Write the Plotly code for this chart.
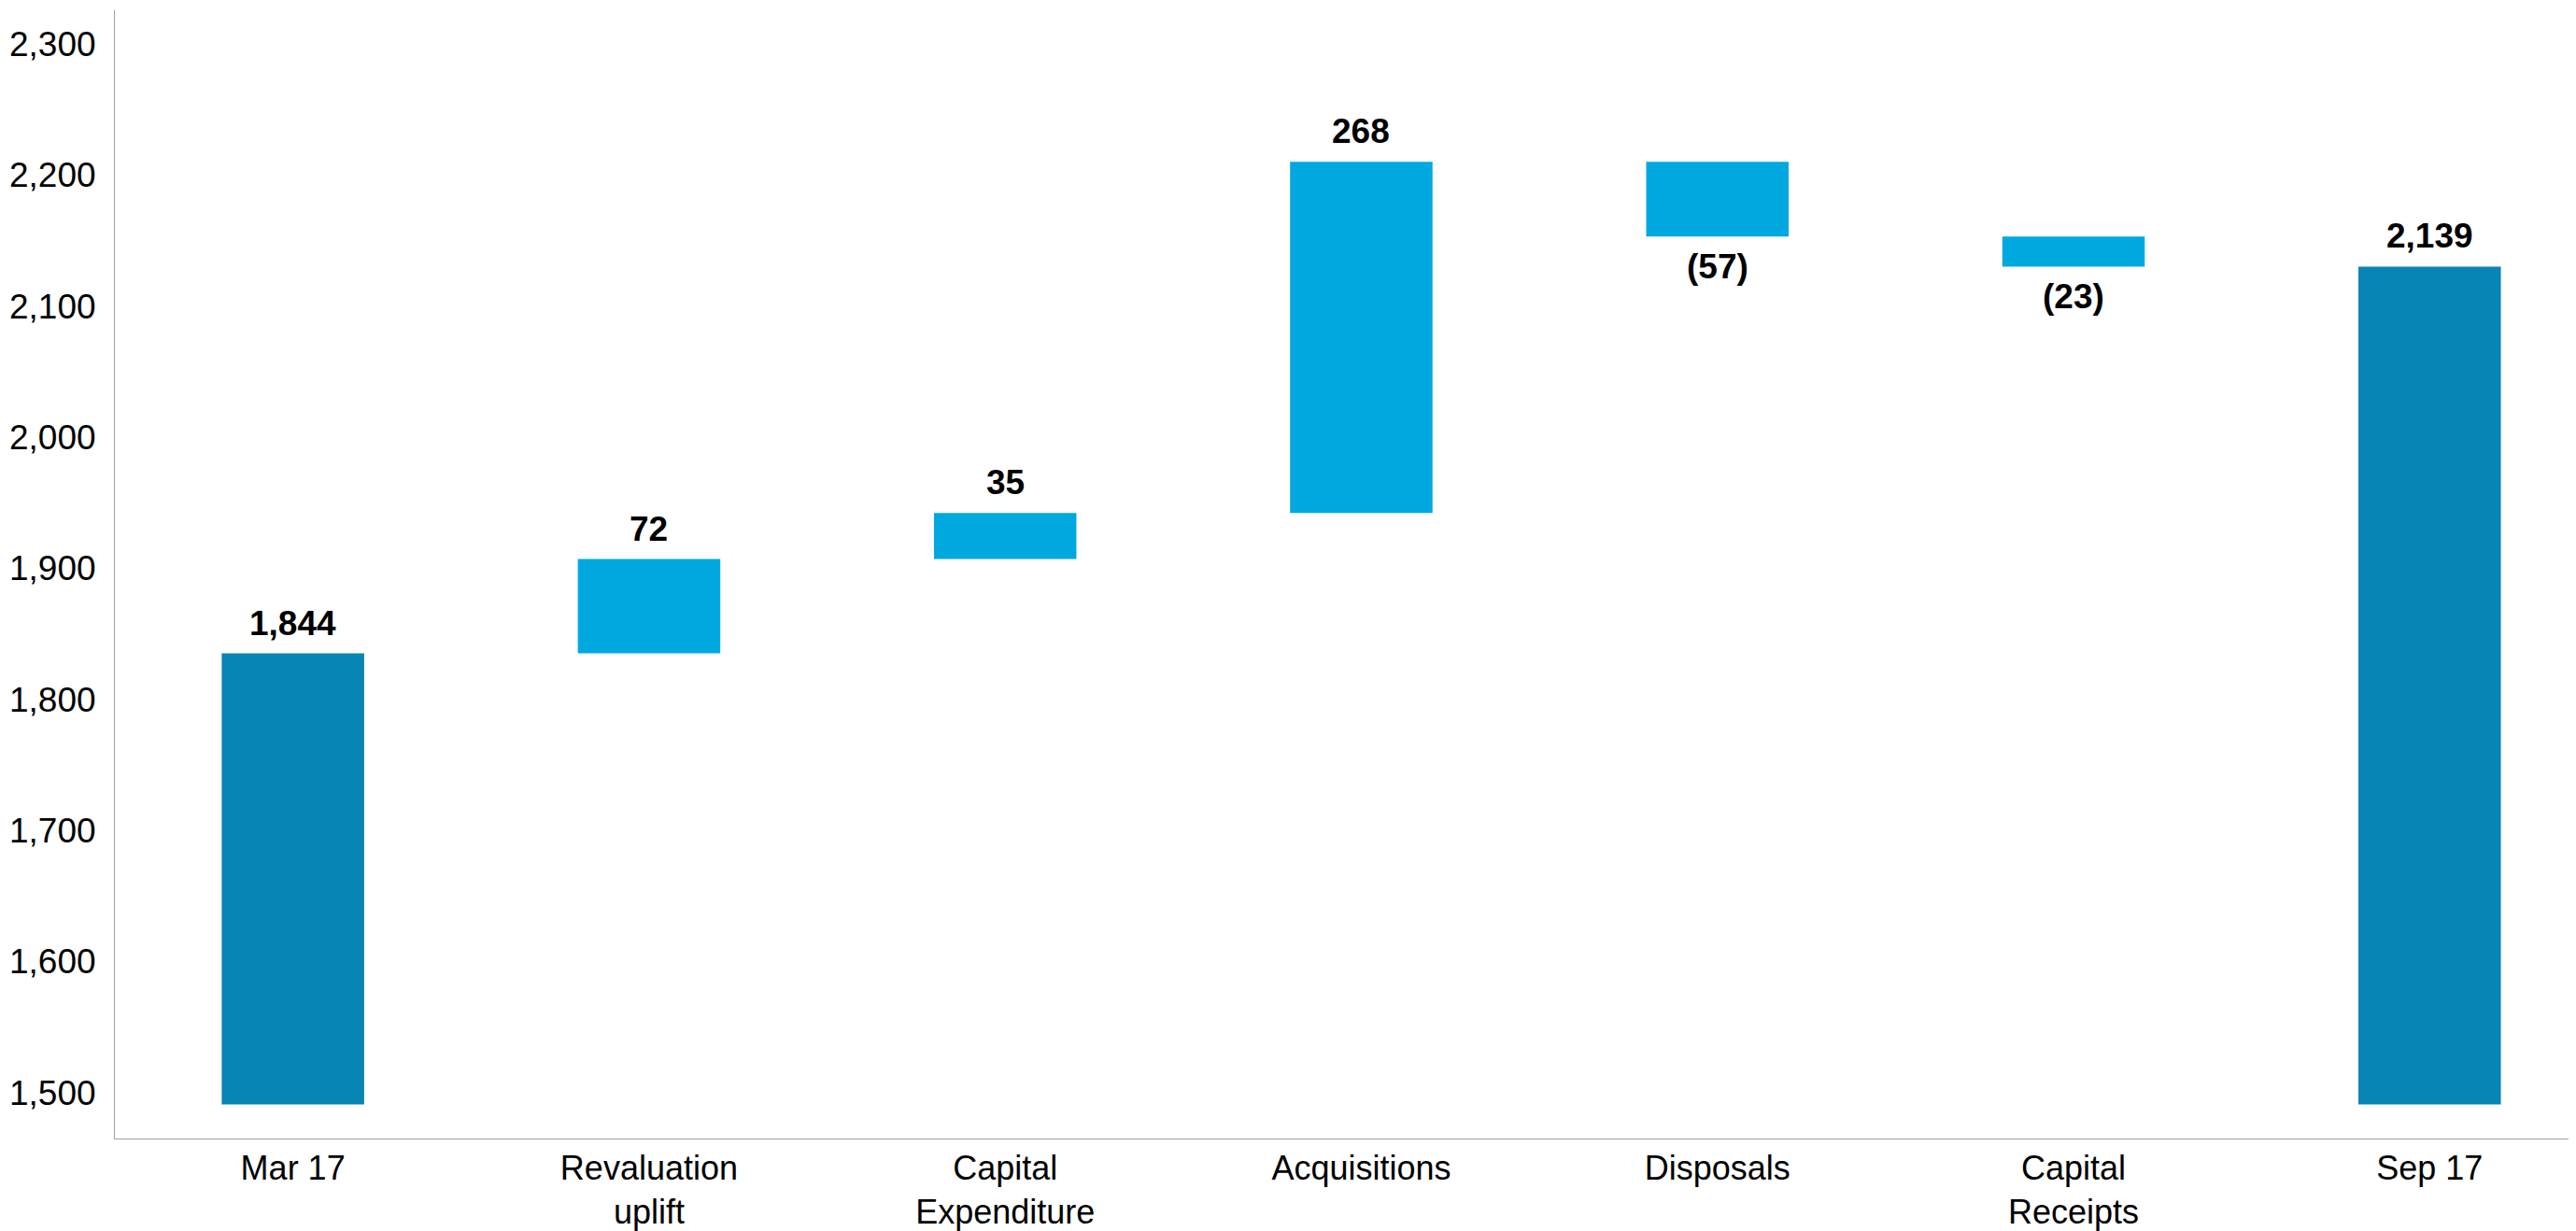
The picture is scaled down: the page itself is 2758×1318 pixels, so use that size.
import plotly.graph_objects as go

categories = ["Mar 17", "Revaluation<br>uplift", "Capital<br>Expenditure", "Acquisitions",
              "Disposals", "Capital<br>Receipts", "Sep 17"]
values = [1844, 72, 35, 268, -57, -23, 2139]
kinds = ["total", "delta", "delta", "delta", "delta", "delta", "total"]
labels = ["1,844", "72", "35", "268", "(57)", "(23)", "2,139"]
axis_floor = 1500
tick_labels = ["1,500", "1,600", "1,700", "1,800", "1,900", "2,000", "2,100", "2,200", "2,300"]
tick_values = [1509, 1609, 1709, 1809, 1909, 2009, 2109, 2209, 2309]

DARK = "#0785B4"
LIGHT = "#00A8E0"

bases, heights, colors = [], [], []
running = 0
for v, k in zip(values, kinds):
    if k == "total":
        bases.append(axis_floor)
        heights.append(v - axis_floor)
        colors.append(DARK)
        running = v
    else:
        bases.append(running)
        heights.append(v)
        colors.append(LIGHT)
        running += v

x_idx = list(range(len(categories)))

fig = go.Figure(go.Bar(
    x=x_idx, y=heights, base=bases, marker=dict(color=colors, line=dict(width=0)),
    width=0.4, hoverinfo="skip",
))

FONT = "Liberation Sans, Arial"
for i, (b, h, lab) in enumerate(zip(bases, heights, labels)):
    end = b + h
    if h >= 0:
        fig.add_annotation(x=i, y=end, text=f"<b>{lab}</b>", showarrow=False,
                           yanchor="bottom", yshift=10,
                           font=dict(family=FONT, size=37, color="#000"))
    else:
        fig.add_annotation(x=i, y=end, text=f"<b>{lab}</b>", showarrow=False,
                           yanchor="top", yshift=-10,
                           font=dict(family=FONT, size=37, color="#000"))

fig.update_layout(
    width=2758, height=1318,
    margin=dict(l=123, r=8, t=11, b=99),
    plot_bgcolor="white", paper_bgcolor="white",
    showlegend=False,
    font=dict(family=FONT, size=37, color="#000"),
)
fig.update_xaxes(
    tickmode="array", tickvals=x_idx, ticktext=categories,
    range=[-0.5, 6.39], showline=True, linecolor="#A0A0A0", linewidth=1,
    showgrid=False, zeroline=False, ticks="", ticklabelstandoff=0,
    tickfont=dict(size=36), automargin=False,
)
fig.update_yaxes(
    tickmode="array", tickvals=tick_values, ticktext=tick_labels,
    range=[1474, 2334.5], showline=True, linecolor="#A0A0A0", linewidth=1,
    showgrid=False, zeroline=False, ticks="", ticklabelstandoff=12,
    tickfont=dict(size=37), automargin=False,
)

fig.write_html("out.html")
